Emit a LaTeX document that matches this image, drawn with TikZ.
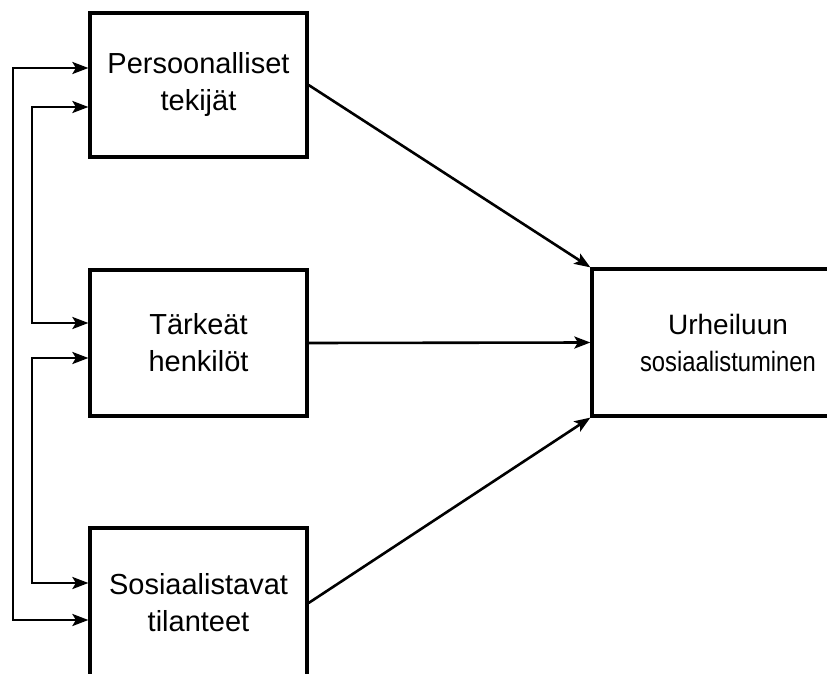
\documentclass[tikz,border=0pt]{standalone}
\usepackage{fontspec}
\setmainfont{Liberation Sans}
\usetikzlibrary{arrows.meta}
\begin{document}
\begin{tikzpicture}[x=1pt,y=-1pt,
  box/.style={draw,line width=3.2pt,rectangle,align=center,inner sep=0pt,
    font=\fontsize{29}{37}\selectfont},
  conn/.style={line width=2.6pt,{Stealth[length=16pt,width=12pt,inset=3.5pt]}-{Stealth[length=16pt,width=12pt,inset=3.5pt]}},
  arr/.style={line width=2.6pt,-{Stealth[length=16pt,width=12pt,inset=3.5pt]}}]
\useasboundingbox (0,0) rectangle (827,674);
\fill[white] (0,0) rectangle (827,674);
\node[box,minimum width=217pt,minimum height=144pt] (b1) at (198.5,85) {Persoonalliset\\tekijät};
\node[box,minimum width=217pt,minimum height=146pt] (b2) at (198.5,343) {Tärkeät\\henkilöt};
\node[box,minimum width=217pt,minimum height=150pt] (b3) at (198.5,603) {Sosiaalistavat\\tilanteet};
\node[box,minimum width=272pt,minimum height=147pt,font=\fontsize{28}{37}\selectfont] (b4) at (728,342.5) {Urheiluun\\\scalebox{0.85}[1]{sosiaalistuminen}};
\coordinate (xo) at (13,0);
\coordinate (xi) at (32,0);
\coordinate (p1) at (0,68);
\coordinate (p2) at (0,107);
\coordinate (p3) at (0,323);
\coordinate (p4) at (0,358);
\coordinate (p5) at (0,583);
\coordinate (p6) at (0,620);
\draw[conn] (b1.west |- p1) -- (xo |- p1) -- (xo |- p6) -- (b3.west |- p6);
\draw[conn] (b1.west |- p2) -- (xi |- p2) -- (xi |- p3) -- (b2.west |- p3);
\draw[conn] (b2.west |- p4) -- (xi |- p4) -- (xi |- p5) -- (b3.west |- p5);
\draw[arr] (b1.east) -- (b4.north west);
\draw[arr] (b2.east) -- (b4.west);
\draw[arr] (b3.east) -- (b4.south west);
\end{tikzpicture}
\end{document}
